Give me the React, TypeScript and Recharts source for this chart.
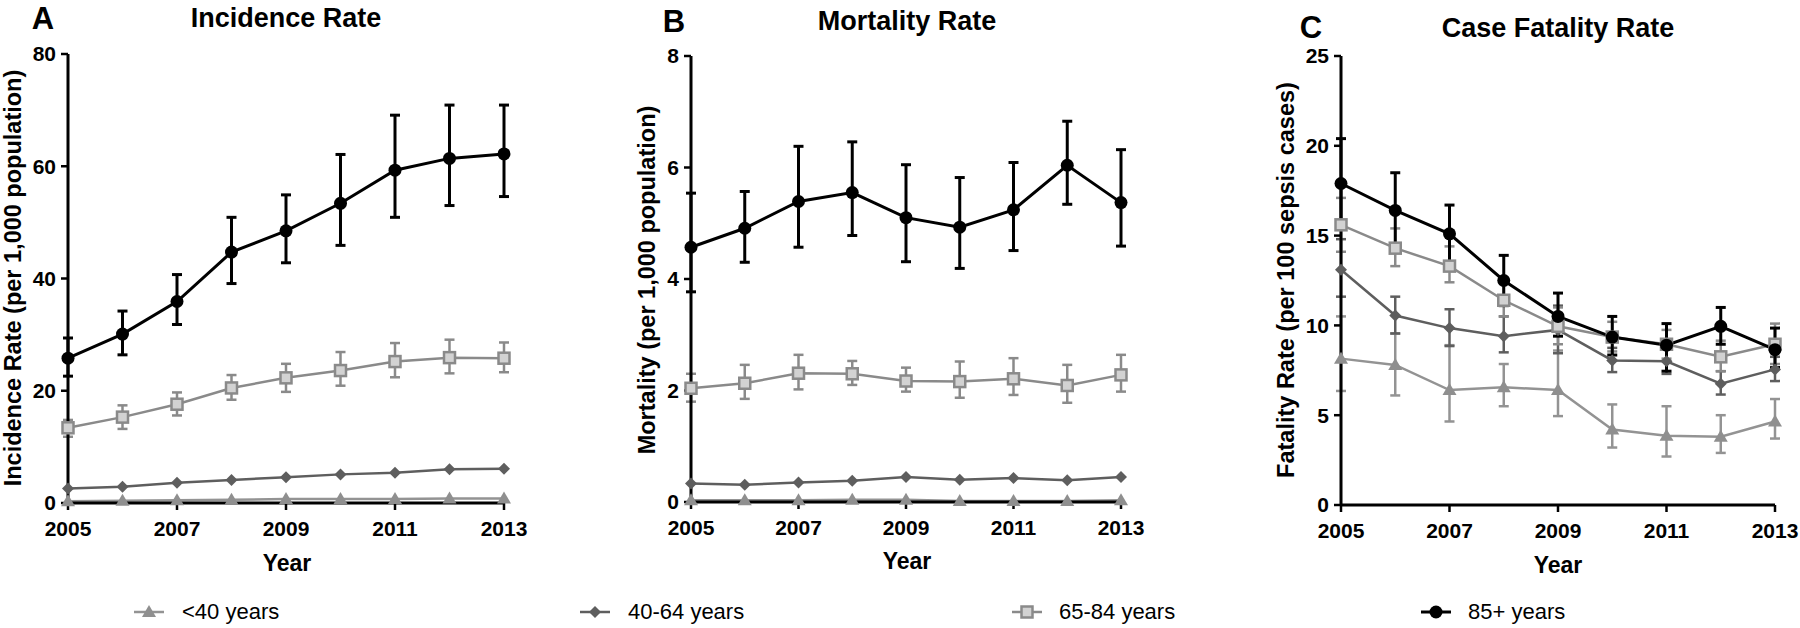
import { LineChart, Line, XAxis, YAxis, ErrorBar } from 'recharts';

const FONT = '"Liberation Sans", Arial, sans-serif';

const years = [2005, 2006, 2007, 2008, 2009, 2010, 2011, 2012, 2013];
const yearTicks = [2005, 2007, 2009, 2011, 2013];

// A - incidence per 1,000 population
const incUnder40 = [0.3, 0.4, 0.5, 0.6, 0.7, 0.7, 0.7, 0.8, 0.8];
const inc40to64 = [2.6, 2.9, 3.6, 4.1, 4.6, 5.1, 5.4, 6.0, 6.1];
const inc65to84 = [13.4, 15.3, 17.6, 20.5, 22.3, 23.6, 25.2, 25.9, 25.8];
const inc65to84Lo = [11.8, 13.2, 15.6, 18.4, 19.8, 20.9, 22.4, 23.1, 23.3];
const inc65to84Hi = [14.8, 17.4, 19.7, 22.8, 24.8, 26.9, 28.5, 29.1, 28.6];
const inc85 = [25.8, 30.1, 35.9, 44.7, 48.5, 53.4, 59.3, 61.4, 62.2];
const inc85Lo = [22.6, 26.4, 31.8, 39.1, 42.8, 45.9, 50.9, 53.0, 54.6];
const inc85Hi = [29.4, 34.2, 40.7, 50.9, 54.9, 62.1, 69.1, 70.9, 70.9];

// B - mortality per 1,000 population
const mortUnder40 = [0.03, 0.03, 0.03, 0.04, 0.04, 0.02, 0.02, 0.02, 0.03];
const mort40to64 = [0.33, 0.31, 0.35, 0.38, 0.45, 0.4, 0.43, 0.39, 0.45];
const mort65to84 = [2.04, 2.13, 2.31, 2.3, 2.17, 2.16, 2.21, 2.09, 2.28];
const mort65to84Lo = [1.8, 1.85, 2.02, 2.1, 1.98, 1.87, 1.92, 1.78, 1.98];
const mort65to84Hi = [2.3, 2.46, 2.64, 2.53, 2.41, 2.52, 2.58, 2.46, 2.64];
const mort85 = [4.57, 4.91, 5.39, 5.55, 5.1, 4.93, 5.24, 6.04, 5.37];
const mort85Lo = [3.77, 4.3, 4.57, 4.78, 4.31, 4.19, 4.51, 5.34, 4.59];
const mort85Hi = [5.54, 5.57, 6.38, 6.46, 6.05, 5.82, 6.09, 6.83, 6.32];

// C - case fatality per 100 sepsis cases
const cfrUnder40 = [8.15, 7.8, 6.4, 6.55, 6.4, 4.2, 3.85, 3.8, 4.65];
const cfrUnder40Lo = [6.35, 6.1, 4.65, 5.5, 4.95, 3.2, 2.7, 2.9, 3.7];
const cfrUnder40Hi = [10.5, 9.55, 8.9, 7.85, 8.6, 5.6, 5.5, 5.0, 5.9];
const cfr40to64 = [13.1, 10.55, 9.85, 9.4, 9.75, 8.05, 8.0, 6.75, 7.55];
const cfr40to64Lo = [11.6, 9.55, 8.85, 8.5, 8.45, 7.4, 7.3, 6.15, 6.9];
const cfr40to64Hi = [14.8, 11.6, 10.9, 10.5, 11.1, 8.75, 8.7, 7.45, 8.25];
const cfr65to84 = [15.6, 14.3, 13.3, 11.4, 9.95, 9.35, 8.95, 8.25, 8.95];
const cfr65to84Lo = [14.1, 13.3, 12.4, 10.5, 8.95, 8.55, 8.15, 7.45, 7.85];
const cfr65to84Hi = [17.1, 15.4, 14.4, 12.4, 11.0, 10.2, 9.75, 9.15, 10.1];
const cfr85 = [17.9, 16.4, 15.1, 12.5, 10.5, 9.35, 8.9, 9.95, 8.65];
const cfr85Lo = [15.4, 14.3, 13.5, 11.1, 9.4, 8.35, 7.45, 8.95, 7.65];
const cfr85Hi = [20.4, 18.5, 16.7, 13.9, 11.8, 10.5, 10.1, 11.0, 9.85];

const groupNames = ['<40 years', '40-64 years', '65-84 years', '85+ years'];

type Arr = number[] | null;
const toErr = (v: number[], lo: Arr, hi: Arr) =>
  lo && hi ? v.map((x, i) => [x - lo[i], hi[i] - x]) : null;

function buildRows(series: { key: string; v: number[]; lo: Arr; hi: Arr }[]) {
  const errs = series.map((s) => toErr(s.v, s.lo, s.hi));
  return years.map((year, i) => {
    const row: any = { year };
    series.forEach((s, k) => {
      row[s.key] = s.v[i];
      if (errs[k]) row[s.key + 'Err'] = errs[k]![i];
    });
    return row;
  });
}

const incidenceRows = buildRows([
  { key: 'g1', v: incUnder40, lo: null, hi: null },
  { key: 'g2', v: inc40to64, lo: null, hi: null },
  { key: 'g3', v: inc65to84, lo: inc65to84Lo, hi: inc65to84Hi },
  { key: 'g4', v: inc85, lo: inc85Lo, hi: inc85Hi },
]);
const mortalityRows = buildRows([
  { key: 'g1', v: mortUnder40, lo: null, hi: null },
  { key: 'g2', v: mort40to64, lo: null, hi: null },
  { key: 'g3', v: mort65to84, lo: mort65to84Lo, hi: mort65to84Hi },
  { key: 'g4', v: mort85, lo: mort85Lo, hi: mort85Hi },
]);
const fatalityRows = buildRows([
  { key: 'g1', v: cfrUnder40, lo: cfrUnder40Lo, hi: cfrUnder40Hi },
  { key: 'g2', v: cfr40to64, lo: cfr40to64Lo, hi: cfr40to64Hi },
  { key: 'g3', v: cfr65to84, lo: cfr65to84Lo, hi: cfr65to84Hi },
  { key: 'g4', v: cfr85, lo: cfr85Lo, hi: cfr85Hi },
]);

// marker shapes
const shapes: Record<string, (cx: number, cy: number, k?: any) => any> = {
  g1: (cx, cy, k) => (
    <path key={k} d={`M${cx},${cy - 7} L${cx + 7},${cy + 5} L${cx - 7},${cy + 5} Z`} fill="#8f8f8f" />
  ),
  g2: (cx, cy, k) => (
    <path key={k} d={`M${cx},${cy - 6} L${cx + 6},${cy} L${cx},${cy + 6} L${cx - 6},${cy} Z`} fill="#5e5e5e" />
  ),
  g3: (cx, cy, k) => (
    <rect key={k} x={cx - 5.5} y={cy - 5.5} width={11} height={11} fill="#d2d2d2" stroke="#8a8a8a" strokeWidth={2.5} />
  ),
  g4: (cx, cy, k) => <circle key={k} cx={cx} cy={cy} r={6.5} fill="#000" />,
};

const seriesStyle = [
  { key: 'g1', color: '#939393', width: 2.5 },
  { key: 'g2', color: '#5e5e5e', width: 2.5 },
  { key: 'g3', color: '#8a8a8a', width: 2.5 },
  { key: 'g4', color: '#000', width: 3 },
];

interface PanelProps {
  rows: any[];
  axisX: number;
  right: number;
  top: number;
  bottom: number;
  domain: [number, number];
  ticks: number[];
}

function Panel({ rows, axisX, right, top, bottom, domain, ticks }: PanelProps) {
  const yw = 60;
  const pad = 40;
  const left = axisX - yw;
  const width = right - left + pad;
  return (
    <div style={{ position: 'absolute', left, top: 0 }}>
      <LineChart
        width={width}
        height={628}
        data={rows}
        margin={{ top, right: pad, left: 0, bottom: 628 - bottom - 30 }}
      >
        <XAxis
          dataKey="year"
          type="number"
          domain={[2005, 2013]}
          ticks={yearTicks}
          interval={0}
          height={30}
          stroke="#000"
          strokeWidth={3}
          tickSize={7}
          tickMargin={11}
          tickLine={{ stroke: '#000', strokeWidth: 2.5 }}
          tick={{ fill: '#000', fontSize: 21, fontWeight: 700, fontFamily: FONT }}
        />
        <YAxis
          type="number"
          width={yw}
          domain={domain}
          ticks={ticks}
          interval={0}
          stroke="#000"
          strokeWidth={3}
          tickSize={7}
          tickMargin={5}
          tickLine={{ stroke: '#000', strokeWidth: 2.5 }}
          tick={{ fill: '#000', fontSize: 21, fontWeight: 700, fontFamily: FONT }}
        />
        {seriesStyle.map((s) => (
          <Line
            key={s.key}
            dataKey={s.key}
            stroke={s.color}
            strokeWidth={s.width}
            isAnimationActive={false}
            dot={(p: any) => shapes[s.key](p.cx, p.cy, p.index)}
            activeDot={false}
          >
            {rows[0][s.key + 'Err'] && (
              <ErrorBar
                dataKey={s.key + 'Err'}
                direction="y"
                width={5}
                stroke={s.color}
                strokeWidth={s.width}
                isAnimationActive={false}
              />
            )}
          </Line>
        ))}
      </LineChart>
    </div>
  );
}

const textAt = (x: number, y: number, size: number, bold: boolean, rotate = false) => ({
  position: 'absolute' as const,
  left: x,
  top: y,
  transform: `translate(-50%, -50%)${rotate ? ' rotate(-90deg)' : ''}`,
  fontSize: size,
  fontWeight: bold ? 700 : 400,
  fontFamily: FONT,
  whiteSpace: 'nowrap' as const,
  color: '#000',
  lineHeight: 1,
});

function LegendItem({ k, x, textX, label }: { k: string; x: number; textX: number; label: string }) {
  const s = seriesStyle.find((d) => d.key === k)!;
  return (
    <>
      <svg style={{ position: 'absolute', left: x - 16, top: 612 - 10 }} width={32} height={20}>
        <line x1={1} y1={10} x2={31} y2={10} stroke={s.color} strokeWidth={s.width} />
        {shapes[k](16, 10)}
      </svg>
      <div
        style={{
          position: 'absolute',
          left: textX,
          top: 612,
          transform: 'translateY(-50%)',
          fontSize: 22,
          fontFamily: FONT,
          whiteSpace: 'nowrap',
          lineHeight: 1,
        }}
      >
        {label}
      </div>
    </>
  );
}

export default function App() {
  return (
    <div style={{ position: 'absolute', left: 0, top: 0, width: 1800, height: 628, background: '#fff', overflow: 'hidden' }}>
      <Panel rows={incidenceRows} axisX={68} right={504} top={54} bottom={503} domain={[0, 80]} ticks={[0, 20, 40, 60, 80]} />
      <Panel rows={mortalityRows} axisX={691} right={1121} top={56} bottom={502} domain={[0, 8]} ticks={[0, 2, 4, 6, 8]} />
      <Panel rows={fatalityRows} axisX={1341} right={1775} top={56} bottom={505} domain={[0, 25]} ticks={[0, 5, 10, 15, 20, 25]} />

      <div style={textAt(43, 18, 31, true)}>A</div>
      <div style={textAt(286, 18, 27, true)}>Incidence Rate</div>
      <div style={textAt(674, 21, 31, true)}>B</div>
      <div style={textAt(907, 21, 27, true)}>Mortality Rate</div>
      <div style={textAt(1311, 27, 31, true)}>C</div>
      <div style={textAt(1558, 28, 27, true)}>Case Fatality Rate</div>

      <div style={textAt(14, 278, 23.5, true, true)}>Incidence Rate (per 1,000 population)</div>
      <div style={textAt(648, 280, 23.5, true, true)}>Mortality (per 1,000 population)</div>
      <div style={textAt(1287, 280, 23.5, true, true)}>Fatality Rate (per 100 sepsis cases)</div>

      <div style={textAt(287, 563, 23, true)}>Year</div>
      <div style={textAt(907, 561, 23, true)}>Year</div>
      <div style={textAt(1558, 565, 23, true)}>Year</div>

      <LegendItem k="g1" x={149} textX={182} label={groupNames[0]} />
      <LegendItem k="g2" x={595} textX={628} label={groupNames[1]} />
      <LegendItem k="g3" x={1027} textX={1059} label={groupNames[2]} />
      <LegendItem k="g4" x={1436} textX={1468} label={groupNames[3]} />
    </div>
  );
}
